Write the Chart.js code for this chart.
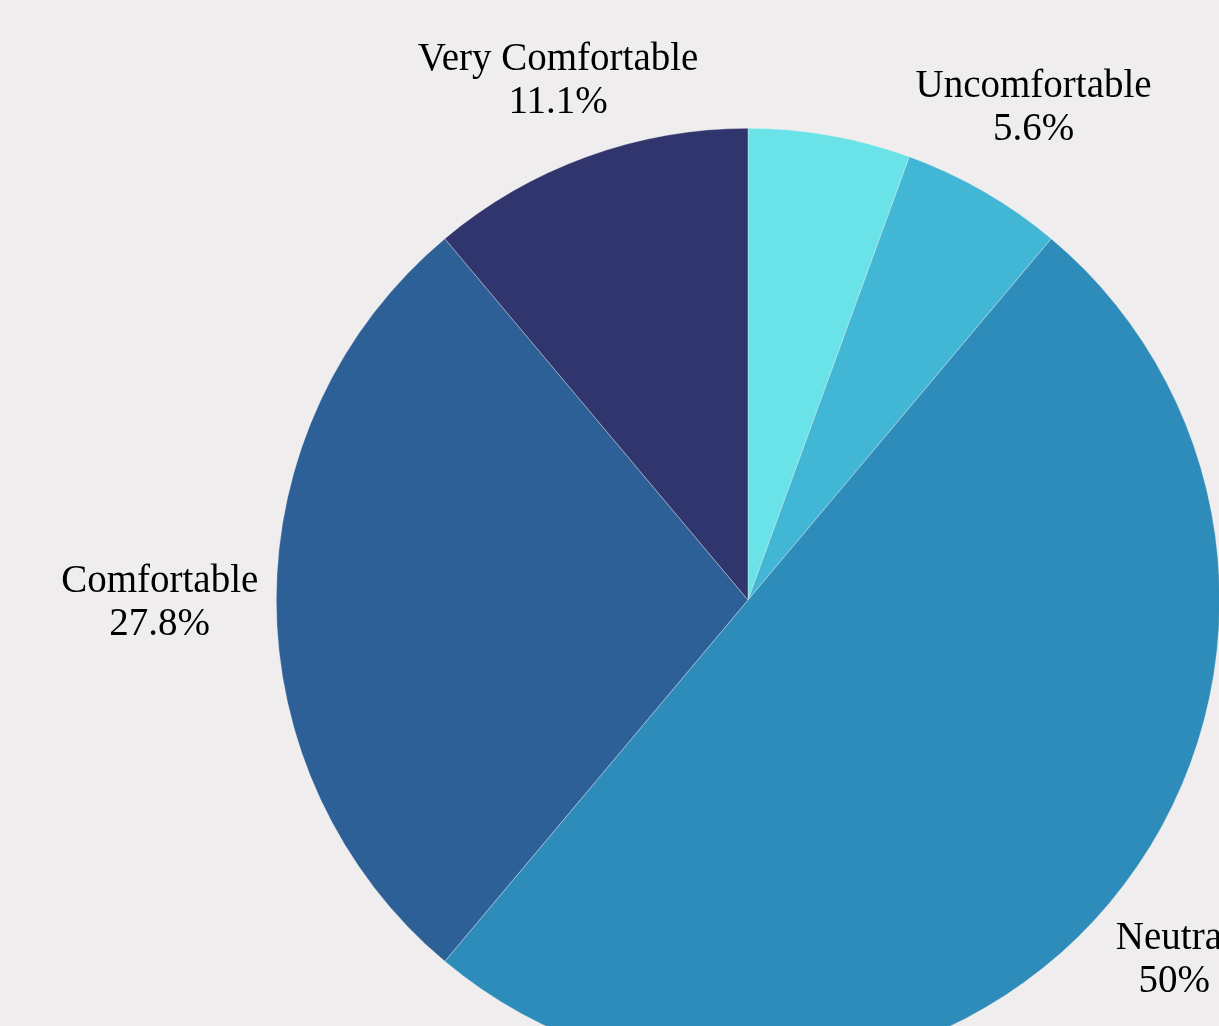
<!DOCTYPE html>
<html>
<head>
<meta charset="utf-8">
<script src="https://cdn.jsdelivr.net/npm/chart.js@4.4.1/dist/chart.umd.min.js"></script>
<style>
  html, body { margin: 0; padding: 0; background: #efedee; overflow: hidden; }
  #wrap { position: relative; width: 1219px; height: 1026px; overflow: hidden; }
  #pie { position: absolute; left: 0; top: 0; }
</style>
</head>
<body>
<div id="wrap"><canvas id="pie" width="1496" height="1200"></canvas></div>
<script>
/* ====== data ====== */
const categories = ['Very Uncomfortable', 'Uncomfortable', 'Neutral', 'Comfortable', 'Very Comfortable'];
const counts = [1, 1, 9, 5, 2];
const sliceColors = ['#69e3e7', '#42b6d5', '#2e8cba', '#2e6098', '#31356d'];
const showLabel = [false, true, true, true, true];

/* ====== outside labels ====== */
const FONT_SIZE = 39;
const LINE_GAP = 43;
const CAP = 26;
const LABEL_GAP = 18;

const outsideLabels = {
  id: 'outsideLabels',
  afterDatasetsDraw(chart) {
    const ctx = chart.ctx;
    const meta = chart.getDatasetMeta(0);
    const total = counts.reduce((a, b) => a + b, 0);
    ctx.save();
    ctx.font = FONT_SIZE + 'px "Liberation Serif", "Times New Roman", serif';
    ctx.fillStyle = '#000';
    ctx.textAlign = 'center';
    ctx.textBaseline = 'alphabetic';

    meta.data.forEach((arc, i) => {
      if (!showLabel[i]) return;
      const p = arc.getProps(['x', 'y', 'startAngle', 'endAngle', 'outerRadius'], true);
      const mid = (p.startAngle + p.endAngle) / 2;
      const ux = Math.cos(mid), uy = Math.sin(mid);

      let pct = (counts[i] / total * 100).toFixed(1).replace(/\.0$/, '') + '%';
      const lines = [categories[i], pct];
      const hw = Math.max(...lines.map(l => ctx.measureText(l).width)) / 2;
      const hh = (LINE_GAP + CAP) / 2;
      const target = p.outerRadius + LABEL_GAP;

      // push the text box out along the mid angle until its nearest corner clears the pie
      let lo = 0, hi = p.outerRadius * 3;
      for (let k = 0; k < 40; k++) {
        const t = (lo + hi) / 2;
        const dx = Math.max(Math.abs(ux * t) - hw, 0);
        const dy = Math.max(Math.abs(uy * t) - hh, 0);
        if (Math.hypot(dx, dy) < target) lo = t; else hi = t;
      }
      const cx = p.x + ux * hi;
      const cy = p.y + uy * hi;
      const base = cy - hh + CAP;
      ctx.fillText(lines[0], cx, base);
      ctx.fillText(lines[1], cx, base + LINE_GAP);
    });
    ctx.restore();
  }
};

new Chart(document.getElementById('pie'), {
  type: 'pie',
  data: {
    labels: categories,
    datasets: [{
      data: counts,
      backgroundColor: sliceColors,
      borderColor: 'rgba(239,237,238,0.6)',
      borderWidth: 0.6
    }]
  },
  options: {
    responsive: false,
    animation: false,
    layout: { padding: { left: 276, right: 276, top: 128, bottom: 128 } },
    plugins: {
      legend: { display: false },
      tooltip: { enabled: false }
    }
  },
  plugins: [outsideLabels]
});
</script>
</body>
</html>
